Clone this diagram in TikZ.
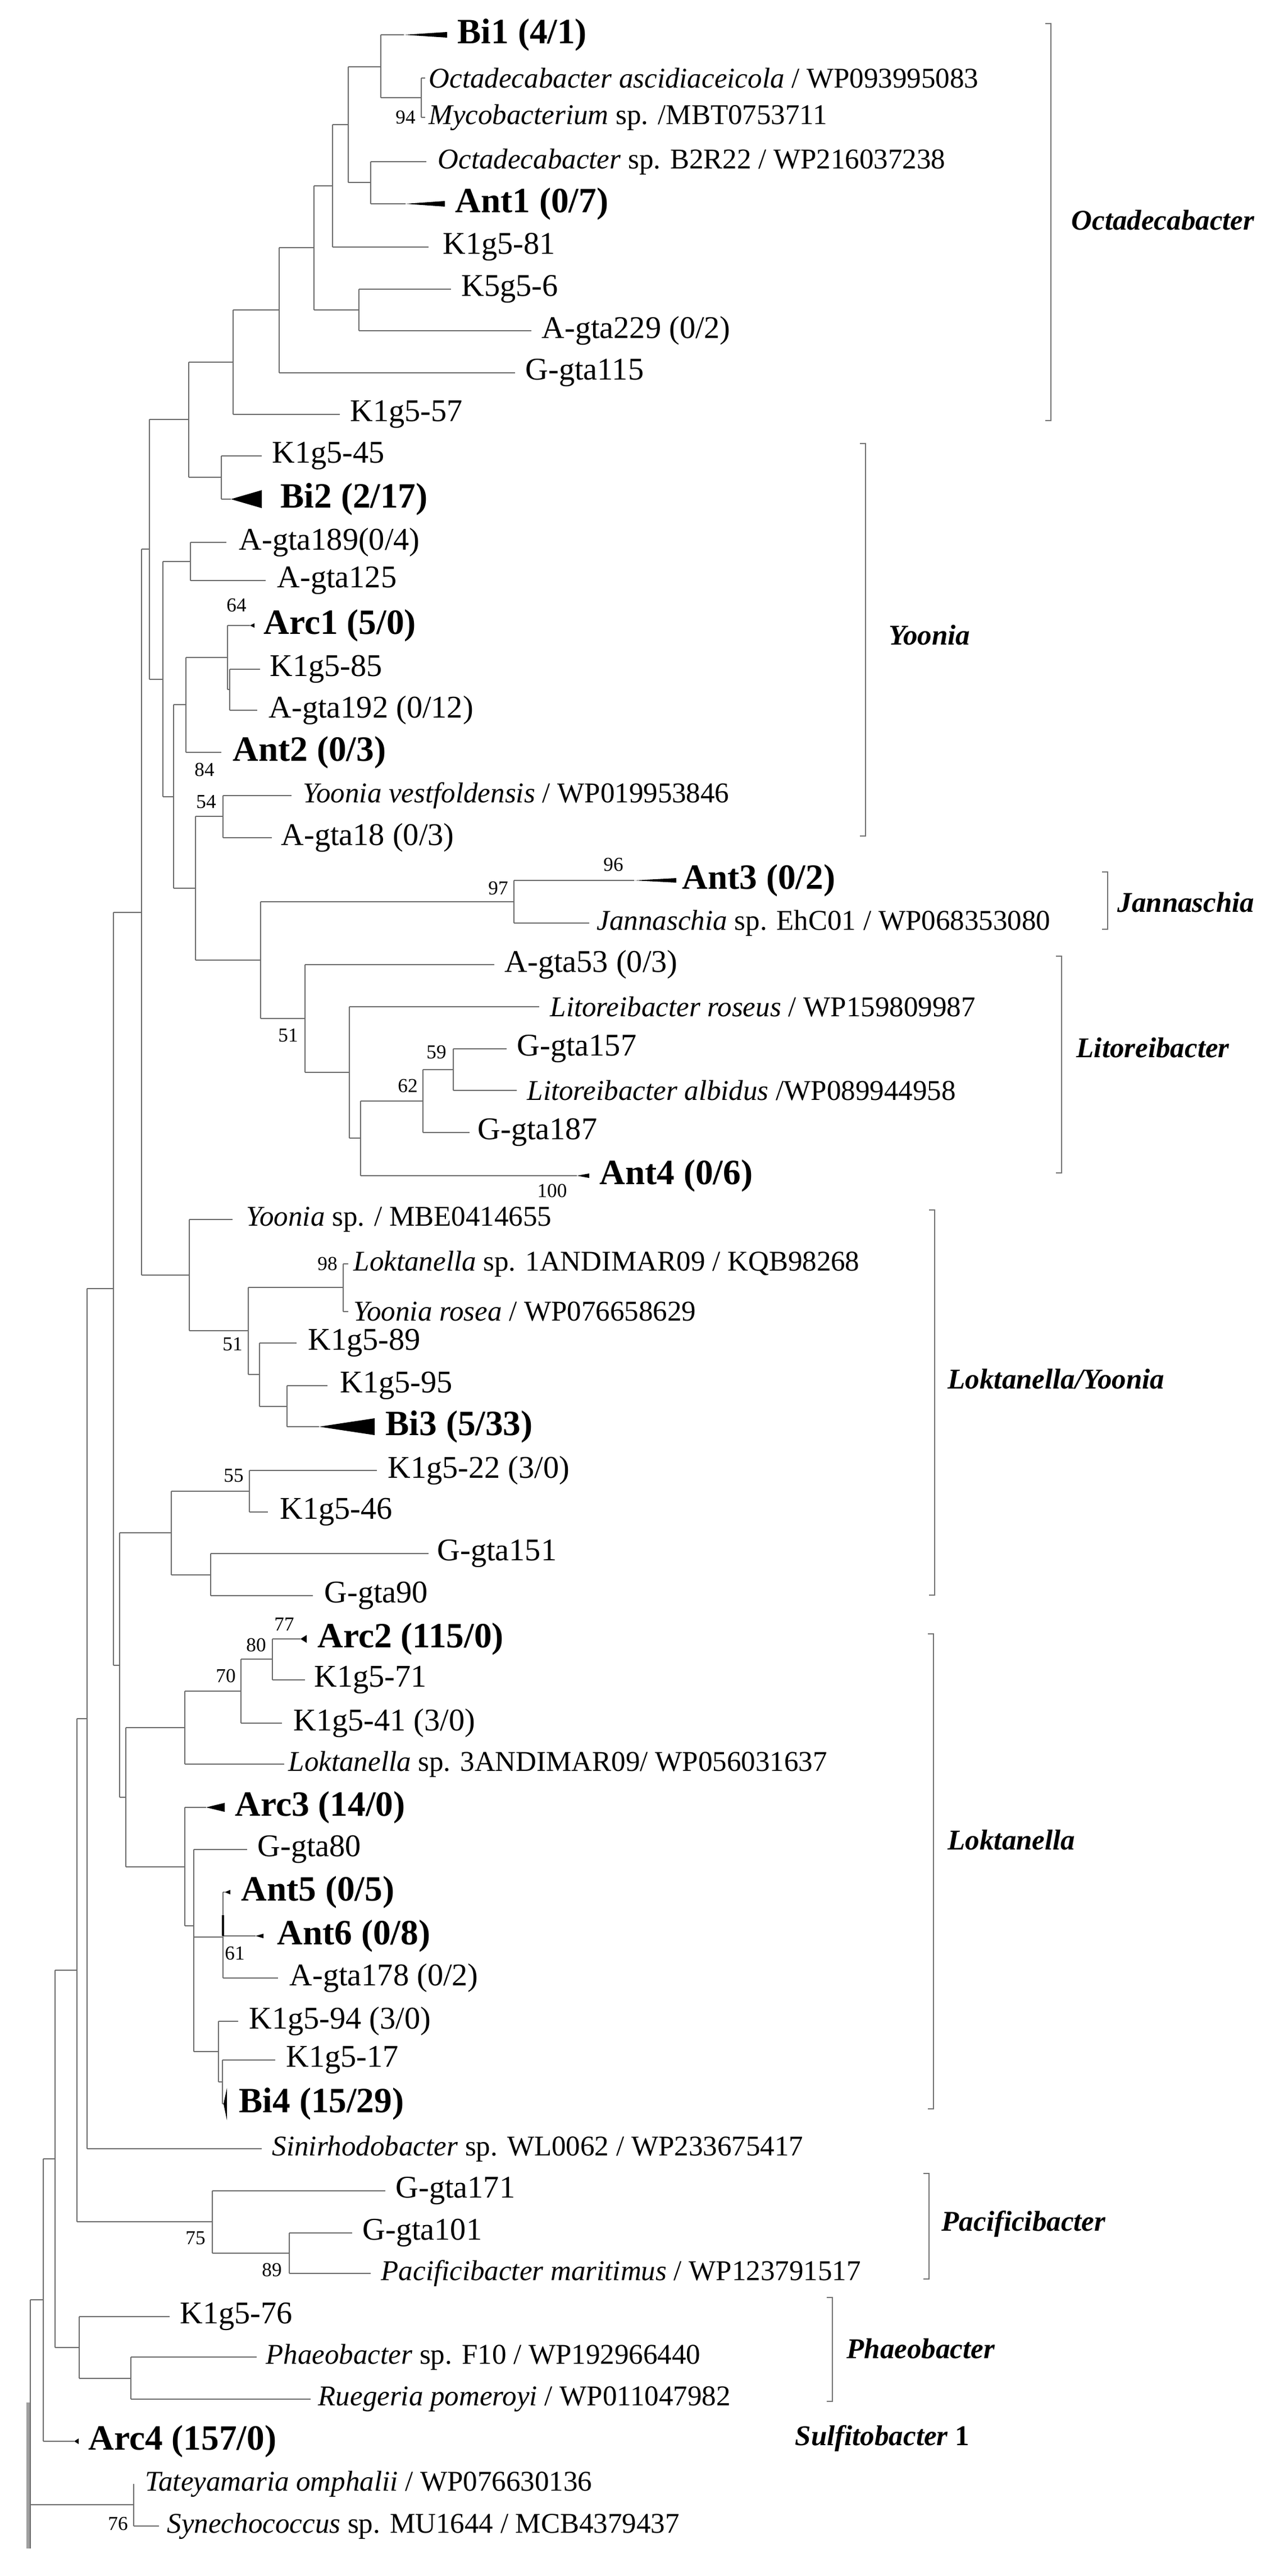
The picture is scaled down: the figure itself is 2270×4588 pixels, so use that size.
\documentclass[tikz,border=0pt]{standalone}
\usepackage{fontspec}
\setmainfont{Liberation Serif}
\definecolor{brc}{gray}{0.42}
\definecolor{bkc}{gray}{0.45}
\newcommand\nd[3]{\draw[br] (#1|-#2) -- (#1|-#3); \draw[br] (#1|-#2) -- (#2); \draw[br] (#1|-#3) -- (#3);}
\newcommand\bk[5]{\draw[bkc,line width=0.6pt] (#1-10,#2) -- (#1,#2) -- (#1,#3) -- (#1-10,#3); \node[cl] at (#4,#5) {#1};}
\begin{document}
\begin{tikzpicture}[x=0.01cm,y=-0.01cm,
 br/.style={draw=brc,line width=0.7pt},
 lf/.style={anchor=west,inner sep=0pt,font=\fontsize{16}{18}\selectfont},
 sp/.style={anchor=west,inner sep=0pt,font=\fontsize{14.5}{16}\selectfont},
 bd/.style={anchor=west,inner sep=0pt,font=\fontsize{18}{20}\selectfont\bfseries},
 bs/.style={inner sep=0pt,font=\fontsize{10}{11}\selectfont},
 cl/.style={anchor=west,inner sep=0pt,font=\fontsize{14.5}{16}\selectfont\bfseries\itshape}]
\useasboundingbox (0,0) rectangle (2270,4588);
% internal nodes
\coordinate (A) at (678,119); \coordinate (OA) at (750,174); \coordinate (C) at (660,325);
\coordinate (B) at (620,222); \coordinate (D) at (592,331); \coordinate (F) at (639,552);
\coordinate (E) at (559,441); \coordinate (G) at (497,552); \coordinate (H) at (415,645);
\coordinate (J) at (394,850); \coordinate (I) at (336,747); \coordinate (P) at (339,1000);
\coordinate (T) at (409,1228); \coordinate (S) at (405,1171); \coordinate (R) at (331,1255);
\coordinate (V) at (397,1454); \coordinate (AC) at (807,1905); \coordinate (AB) at (753,1961);
\coordinate (AA) at (642,2027); \coordinate (Z) at (622,1910); \coordinate (Y) at (543,1814);
\coordinate (X) at (915,1606); \coordinate (W) at (464,1710); \coordinate (U) at (348,1582);
\coordinate (Q) at (309,1419); \coordinate (L) at (290,1210); \coordinate (K) at (266,978);
\coordinate (MC) at (611,2293); \coordinate (ME) at (511,2505); \coordinate (MD) at (462,2448);
\coordinate (MB) at (442,2370); \coordinate (MA) at (337,2271); \coordinate (M) at (252,1625);
\coordinate (ND) at (444,2656); \coordinate (NE) at (375,2805); \coordinate (NC) at (305,2730);
\coordinate (NI) at (485,2955); \coordinate (NH) at (429,3012); \coordinate (NG) at (329,3077);
\coordinate (NL) at (397,3450); \coordinate (NN) at (396,3708); \coordinate (NM) at (389,3654);
\coordinate (NK) at (345,3430); \coordinate (NJ) at (329,3325); \coordinate (NF) at (224,3201);
\coordinate (NB) at (213,2966); \coordinate (N) at (202,2295); \coordinate (N2) at (155,3061);
\coordinate (PB) at (515,4013); \coordinate (PA) at (378,3957); \coordinate (O) at (137,3509);
\coordinate (QB) at (233,4236); \coordinate (QA) at (141,4181); \coordinate (P1) at (98,3845);
\coordinate (R2) at (77,4096); \coordinate (TS) at (238,4461); \coordinate (RT) at (54,4278);
\coordinate (RB) at (54,4539); \coordinate (RS) at (50,4279); \coordinate (RSB) at (50,4539);
% tips
\coordinate (tBi1) at (719,62); \coordinate (tOasc) at (757,139); \coordinate (tMyco) at (757,209);
\coordinate (tOB2) at (759,288); \coordinate (tAnt1) at (722,363); \coordinate (tK81) at (763,440);
\coordinate (tK6) at (803,515); \coordinate (tA229) at (946,589); \coordinate (tG115) at (917,664);
\coordinate (tK57) at (605,738); \coordinate (tK45) at (466,812); \coordinate (tBi2) at (411,889);
\coordinate (tA189) at (403,966); \coordinate (tA125) at (473,1034); \coordinate (tArc1) at (445,1114);
\coordinate (tK85) at (463,1192); \coordinate (tA192) at (458,1265); \coordinate (tAnt2) at (394,1340);
\coordinate (tYv) at (519,1417); \coordinate (tA18) at (484,1492); \coordinate (tAnt3) at (1129,1568);
\coordinate (tJann) at (1049,1644); \coordinate (tA53) at (880,1718); \coordinate (tLros) at (960,1793);
\coordinate (tG157) at (902,1868); \coordinate (tLalb) at (920,1942); \coordinate (tG187) at (836,2017);
\coordinate (tAnt4) at (1027,2094); \coordinate (tYsp) at (414,2172); \coordinate (tLok1) at (620,2251);
\coordinate (tYros) at (620,2336); \coordinate (tK89) at (528,2392); \coordinate (tK95) at (583,2468);
\coordinate (tBi3) at (568,2541); \coordinate (tK22) at (671,2619); \coordinate (tK46) at (477,2693);
\coordinate (tG151) at (763,2767); \coordinate (tG90) at (557,2842); \coordinate (tArc2) at (535,2919);
\coordinate (tK71) at (543,2992); \coordinate (tK41) at (502,3069); \coordinate (tLok3) at (506,3142);
\coordinate (tArc3) at (367,3219); \coordinate (tG80) at (440,3294); \coordinate (tAnt5) at (400,3370);
\coordinate (tAnt6) at (455,3448); \coordinate (tA178) at (495,3523); \coordinate (tK94) at (424,3600);
\coordinate (tK17) at (490,3669); \coordinate (tBi4) at (398,3747); \coordinate (tSini) at (466,3827);
\coordinate (tG171) at (686,3902); \coordinate (tG101) at (627,3977); \coordinate (tPmar) at (660,4049);
\coordinate (tK76) at (302,4126); \coordinate (tPhaeo) at (457,4198); \coordinate (tRueg) at (553,4273);
\coordinate (tArc4) at (132,4348); \coordinate (tTat) at (238,4424); \coordinate (tSyn) at (283,4499);
% branches
\nd{A}{tBi1}{OA} \nd{OA}{tOasc}{tMyco} \nd{C}{tOB2}{tAnt1} \nd{B}{A}{C} \nd{D}{B}{tK81}
\nd{F}{tK6}{tA229} \nd{E}{D}{F} \nd{G}{E}{tG115} \nd{H}{G}{tK57} \nd{J}{tK45}{tBi2}
\nd{I}{H}{J} \nd{K}{I}{L} \nd{P}{tA189}{tA125} \nd{S}{tArc1}{T} \nd{T}{tK85}{tA192}
\nd{R}{S}{tAnt2} \nd{L}{P}{Q} \nd{Q}{R}{U} \nd{V}{tYv}{tA18} \nd{U}{V}{W} \nd{W}{X}{Y}
\nd{X}{tAnt3}{tJann} \nd{Y}{tA53}{Z} \nd{Z}{tLros}{AA} \nd{AA}{AB}{tAnt4} \nd{AB}{AC}{tG187}
\nd{AC}{tG157}{tLalb} \nd{M}{K}{MA} \nd{MA}{tYsp}{MB} \nd{MB}{MC}{MD} \nd{MC}{tLok1}{tYros}
\nd{MD}{tK89}{ME} \nd{ME}{tK95}{tBi3} \nd{N}{M}{NB} \nd{NB}{NC}{NF} \nd{NC}{ND}{NE}
\nd{ND}{tK22}{tK46} \nd{NE}{tG151}{tG90} \nd{NF}{NG}{NJ} \nd{NG}{NH}{tLok3} \nd{NH}{NI}{tK41}
\nd{NI}{tArc2}{tK71} \nd{NJ}{tArc3}{NK} \nd{NK}{tG80}{NM} \draw[br] (NK|-NL) -- (NL);
\nd{NL}{tAnt5}{tA178} \draw[br] (NL|-tAnt6) -- (tAnt6);
\draw[black,line width=1.4pt] (NL|-0,3411) -- (NL|-tAnt6);
\nd{NM}{tK94}{NN} \nd{NN}{tK17}{tBi4} \nd{N2}{N}{tSini} \nd{O}{N2}{PA} \nd{PA}{tG171}{PB}
\nd{PB}{tG101}{tPmar} \nd{P1}{O}{QA} \nd{QA}{tK76}{QB} \nd{QB}{tPhaeo}{tRueg} \nd{R2}{P1}{tArc4}
\nd{TS}{tTat}{tSyn} \nd{RT}{R2}{TS} \draw[br] (RT|-TS) -- (RB);
\draw[gray!75,line width=1.6pt] (RS) -- (RSB);
% collapsed clades
\fill (tBi1) -- (796,57) -- (796,67) -- cycle;
\fill (tAnt1) -- (792,358) -- (792,368) -- cycle;
\fill (tBi2) -- (466,873) -- (466,905) -- cycle;
\fill (tArc1) -- (453,1110) -- (453,1118) -- cycle;
\fill (tAnt3) -- (1204,1564) -- (1204,1572) -- cycle;
\fill (tAnt4) -- (1049,2090) -- (1049,2098) -- cycle;
\fill (tBi3) -- (667,2526) -- (667,2556) -- cycle;
\fill (tArc2) -- (546,2912) -- (546,2926) -- cycle;
\fill (tArc3) -- (400,3211) -- (400,3227) -- cycle;
\fill (tAnt5) -- (410,3366) -- (410,3374) -- cycle;
\fill (tAnt6) -- (469,3444) -- (469,3452) -- cycle;
\fill (tBi4) -- (404,3719) -- (404,3776) -- cycle;
\fill (tArc4) -- (140,4343) -- (140,4353) -- cycle;
% leaf labels
\node[bd] (Bi1) at (814,62) {Bi1 (4/1)};
\node[sp] (Oasc) at (763,139) {\textit{Octadecabacter ascidiaceicola} / WP093995083};
\node[sp] (Myco) at (763,209) {\textit{Mycobacterium} sp. /MBT0753711};
\node[sp] (OB2) at (779,288) {\textit{Octadecabacter} sp. B2R22 / WP216037238};
\node[bd] (Ant1) at (810,363) {Ant1 (0/7)};
\node[lf] (K81) at (788,440) {K1g5-81};
\node[lf] (K6) at (821,515) {K5g5-6};
\node[lf] (A229) at (964,589) {A-gta229 (0/2)};
\node[lf] (G115) at (935,664) {G-gta115};
\node[lf] (K57) at (623,738) {K1g5-57};
\node[lf] (K45) at (484,812) {K1g5-45};
\node[bd] (Bi2) at (499,889) {Bi2 (2/17)};
\node[lf] (A189) at (425,966) {A-gta189(0/4)};
\node[lf] (A125) at (493,1034) {A-gta125};
\node[bd] (Arc1) at (469,1114) {Arc1 (5/0)};
\node[lf] (K85) at (480,1192) {K1g5-85};
\node[lf] (A192) at (478,1265) {A-gta192 (0/12)};
\node[bd] (Ant2) at (414,1340) {Ant2 (0/3)};
\node[sp] (Yv) at (539,1417) {\textit{Yoonia vestfoldensis} / WP019953846};
\node[lf] (A18) at (500,1492) {A-gta18 (0/3)};
\node[bd] (Ant3) at (1214,1568) {Ant3 (0/2)};
\node[sp] (Jann) at (1062,1644) {\textit{Jannaschia} sp. EhC01 / WP068353080};
\node[lf] (A53) at (898,1718) {A-gta53 (0/3)};
\node[sp] (Lros) at (979,1793) {\textit{Litoreibacter roseus} / WP159809987};
\node[lf] (G157) at (920,1868) {G-gta157};
\node[sp] (Lalb) at (938,1942) {\textit{Litoreibacter albidus} /WP089944958};
\node[lf] (G187) at (850,2017) {G-gta187};
\node[bd] (Ant4) at (1067,2094) {Ant4 (0/6)};
\node[sp] (Ysp) at (438,2172) {\textit{Yoonia} sp. / MBE0414655};
\node[sp] (Lok1) at (629,2251) {\textit{Loktanella} sp. 1ANDIMAR09 / KQB98268};
\node[sp] (Yros) at (629,2336) {\textit{Yoonia rosea} / WP076658629};
\node[lf] (K89) at (548,2392) {K1g5-89};
\node[lf] (K95) at (605,2468) {K1g5-95};
\node[bd] (Bi3) at (686,2541) {Bi3 (5/33)};
\node[lf] (K22) at (690,2619) {K1g5-22 (3/0)};
\node[lf] (K46) at (498,2693) {K1g5-46};
\node[lf] (G151) at (778,2767) {G-gta151};
\node[lf] (G90) at (577,2842) {G-gta90};
\node[bd] (Arc2) at (565,2919) {Arc2 (115/0)};
\node[lf] (K71) at (559,2992) {K1g5-71};
\node[lf] (K41) at (522,3069) {K1g5-41 (3/0)};
\node[sp] (Lok3) at (513,3142) {\textit{Loktanella} sp. 3ANDIMAR09/ WP056031637};
\node[bd] (Arc3) at (418,3219) {Arc3 (14/0)};
\node[lf] (G80) at (458,3294) {G-gta80};
\node[bd] (Ant5) at (429,3370) {Ant5 (0/5)};
\node[bd] (Ant6) at (493,3448) {Ant6 (0/8)};
\node[lf] (A178) at (515,3523) {A-gta178 (0/2)};
\node[lf] (K94) at (443,3600) {K1g5-94 (3/0)};
\node[lf] (K17) at (509,3669) {K1g5-17};
\node[bd] (Bi4) at (425,3747) {Bi4 (15/29)};
\node[sp] (Sini) at (484,3827) {\textit{Sinirhodobacter} sp. WL0062 / WP233675417};
\node[lf] (G171) at (704,3902) {G-gta171};
\node[lf] (G101) at (645,3977) {G-gta101};
\node[sp] (Pmar) at (678,4049) {\textit{Pacificibacter maritimus} / WP123791517};
\node[lf] (K76) at (320,4126) {K1g5-76};
\node[sp] (Phaeo) at (473,4198) {\textit{Phaeobacter} sp. F10 / WP192966440};
\node[sp] (Rueg) at (566,4273) {\textit{Ruegeria pomeroyi} / WP011047982};
\node[bd] (Arc4) at (157,4348) {Arc4 (157/0)};
\node[sp] (Tat) at (258,4424) {\textit{Tateyamaria omphalii} / WP076630136};
\node[sp] (Syn) at (297,4499) {\textit{Synechococcus} sp. MU1644 / MCB4379437};
% bootstrap values
\foreach \v/\x/\y in {94/722/209, 64/421/1078, 84/364/1371, 54/367/1428, 97/887/1582,
  96/1092/1540, 51/513/1844, 59/777/1874, 62/726/1934, 100/983/2121, 98/583/2251,
  51/414/2394, 55/416/2628, 77/506/2893, 80/456/2930, 70/402/2985, 61/418/3479,
  75/348/3986, 89/484/4043, 76/210/4495}
  \node[bs] at (\x,\y) {\v};
% clade brackets
\draw[bkc,line width=0.6pt] (1861,42) -- (1871,42) -- (1871,749) -- (1861,749);
\node[cl] (cOct) at (1907,392) {Octadecabacter};
\draw[bkc,line width=0.6pt] (1531,790) -- (1541,790) -- (1541,1489) -- (1531,1489);
\node[cl] (cYoo) at (1582,1131) {Yoonia};
\draw[bkc,line width=0.6pt] (1962,1553) -- (1972,1553) -- (1972,1655) -- (1962,1655);
\node[cl] (cJan) at (1989,1607) {Jannaschia};
\draw[bkc,line width=0.6pt] (1880,1703) -- (1890,1703) -- (1890,2089) -- (1880,2089);
\node[cl] (cLit) at (1916,1866) {Litoreibacter};
\draw[bkc,line width=0.6pt] (1654,2155) -- (1664,2155) -- (1664,2841) -- (1654,2841);
\node[cl] (cLY) at (1687,2456) {Loktanella/Yoonia};
\draw[bkc,line width=0.6pt] (1652,2910) -- (1662,2910) -- (1662,3756) -- (1652,3756);
\node[cl] (cLok) at (1687,3277) {Loktanella};
\draw[bkc,line width=0.6pt] (1644,3871) -- (1654,3871) -- (1654,4059) -- (1644,4059);
\node[cl] (cPac) at (1676,3961) {Pacificibacter};
\draw[bkc,line width=0.6pt] (1472,4092) -- (1482,4092) -- (1482,4277) -- (1472,4277);
\node[cl] (cPha) at (1507,4183) {Phaeobacter};
\node[cl] (cSul) at (1415,4343) {Sulfitobacter \textup{1}};
\end{tikzpicture}
\end{document}
